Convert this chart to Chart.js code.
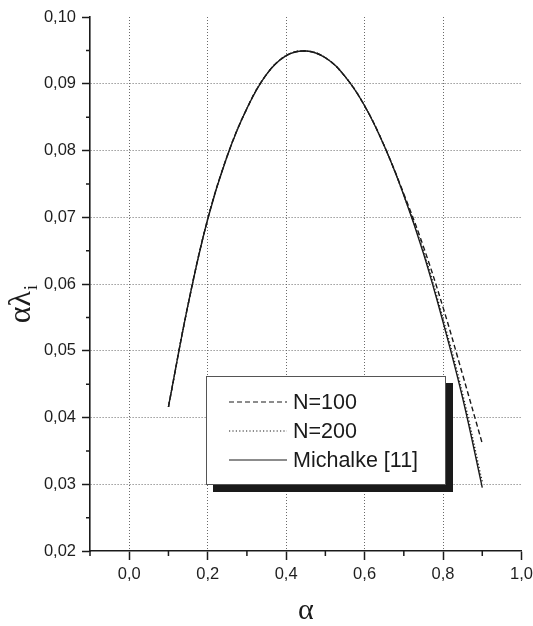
<!DOCTYPE html>
<html>
<head>
<meta charset="utf-8">
<script src="https://cdn.jsdelivr.net/npm/chart.js@4/dist/chart.umd.min.js"></script>
<style>
  html, body { margin: 0; padding: 0; background: #fff; }
  #wrap { width: 533px; height: 626px; }
</style>
</head>
<body>
<div id="wrap"><canvas id="myChart" width="533" height="626"></canvas></div>
<script>
const alpha = [0.10, 0.15, 0.20, 0.25, 0.30, 0.35, 0.40, 0.45, 0.50, 0.55, 0.60, 0.65, 0.70, 0.75, 0.80, 0.85, 0.90];
const n100 = [0.0416, 0.0569, 0.0697, 0.0792, 0.0863, 0.0914, 0.0942, 0.0949, 0.0939, 0.0911, 0.0867, 0.0807, 0.0735, 0.0656, 0.0565, 0.0464, 0.0361];
const n200 = [0.0416, 0.0569, 0.0697, 0.0792, 0.0863, 0.0914, 0.0942, 0.0949, 0.0939, 0.0911, 0.0867, 0.0807, 0.0733, 0.0649, 0.0548, 0.0435, 0.0303];
const michalke = [0.0416, 0.0569, 0.0697, 0.0792, 0.0863, 0.0914, 0.0942, 0.0949, 0.0939, 0.0911, 0.0867, 0.0807, 0.0733, 0.0646, 0.0543, 0.0429, 0.0295];

const seriesLabels = ['N=100', 'N=200', 'Michalke [11]'];

const xTicks = [0.0, 0.2, 0.4, 0.6, 0.8, 1.0];
const xTickLabels = ['0,0', '0,2', '0,4', '0,6', '0,8', '1,0'];
const xMinorTicks = [-0.1, 0.1, 0.3, 0.5, 0.7, 0.9];
const yTicks = [0.02, 0.03, 0.04, 0.05, 0.06, 0.07, 0.08, 0.09, 0.10];
const yTickLabels = ['0,02', '0,03', '0,04', '0,05', '0,06', '0,07', '0,08', '0,09', '0,10'];
const yMinorTicks = [0.025, 0.035, 0.045, 0.055, 0.065, 0.075, 0.085, 0.095];

const ink = '#1a1a1a';
const gridGray = '#6a6a6a';

function pts(ys) {
    return alpha.map((a, i) => ({ x: a, y: ys[i] }));
}

// minor tick marks (Chart.js only draws one tick length)
const minorTicks = {
    id: 'minorTicks',
    afterDraw(chart) {
        const ctx = chart.ctx;
        const x = chart.scales.x, y = chart.scales.y;
        ctx.save();
        ctx.strokeStyle = ink;
        ctx.lineWidth = 1.5;
        ctx.beginPath();
        xMinorTicks.forEach(v => {
            const px = x.getPixelForValue(v);
            ctx.moveTo(px, x.top);
            ctx.lineTo(px, x.top + 5);
        });
        yMinorTicks.forEach(v => {
            const py = y.getPixelForValue(v);
            ctx.moveTo(y.right, py);
            ctx.lineTo(y.right - 4, py);
        });
        ctx.stroke();
        ctx.restore();
    }
};

// y axis title: alpha lambda with subscript i
const yTitle = {
    id: 'yTitle',
    afterDraw(chart) {
        const ctx = chart.ctx;
        const y = chart.scales.y;
        const cy = (y.top + y.bottom) / 2 + 23;
        ctx.save();
        ctx.translate(30, cy);
        ctx.rotate(-Math.PI / 2);
        ctx.fillStyle = ink;
        ctx.textBaseline = 'alphabetic';
        ctx.font = '32px "Liberation Serif", serif';
        const w = ctx.measureText('αλ').width;
        ctx.textAlign = 'left';
        ctx.fillText('αλ', -w / 2, 0);
        ctx.font = '19px "Liberation Serif", serif';
        ctx.fillText('i', w / 2 + 0.5, 7);
        ctx.restore();
    }
};

// boxed legend with a drop shadow
const boxLegend = {
    id: 'boxLegend',
    afterDatasetsDraw(chart) {
        const ctx = chart.ctx;
        const left = 206, top = 376, w = 240, h = 109, off = 7;
        ctx.save();
        ctx.fillStyle = '#1a1a1a';
        ctx.fillRect(left + off, top + off, w, h);
        ctx.fillStyle = '#fff';
        ctx.fillRect(left, top, w, h);
        ctx.strokeStyle = '#555';
        ctx.lineWidth = 1;
        ctx.strokeRect(left + 0.5, top + 0.5, w - 1, h - 1);
        ctx.font = '21.5px "Liberation Sans", Arial, sans-serif';
        ctx.textBaseline = 'middle';
        ctx.fillStyle = ink;
        chart.data.datasets.forEach((ds, i) => {
            const ry = top + 26 + i * 29;
            ctx.save();
            ctx.strokeStyle = ds.borderColor;
            ctx.lineWidth = 1.2;
            ctx.setLineDash(ds.borderDash || []);
            ctx.beginPath();
            ctx.moveTo(229, ry);
            ctx.lineTo(287, ry);
            ctx.stroke();
            ctx.restore();
            ctx.fillText(ds.label, 293, ry + 1);
        });
        ctx.restore();
    }
};

function makeGraphic() {
    const canvasContext = document.getElementById('myChart').getContext('2d');
    const lineStyle = {
        borderColor: ink,
        borderWidth: 1.4,
        pointRadius: 0,
        fill: false,
        tension: 0.4
    };
    const data = {
        datasets: [
            Object.assign({ label: seriesLabels[0], data: pts(n100), borderDash: [5, 3] }, lineStyle),
            Object.assign({ label: seriesLabels[1], data: pts(n200), borderDash: [1.2, 2.2] }, lineStyle),
            Object.assign({ label: seriesLabels[2], data: pts(michalke) }, lineStyle)
        ]
    };
    const tickFont = { family: '"Liberation Sans", Arial, sans-serif', size: 16.5 };
    const config = {
        type: 'line',
        data: data,
        options: {
            responsive: false,
            animation: false,
            events: [],
            layout: { padding: { top: 17, right: 11.5, left: 0, bottom: 0 } },
            plugins: {
                legend: { display: false },
                tooltip: { enabled: false }
            },
            scales: {
                x: {
                    type: 'linear',
                    min: -0.1,
                    max: 1.0,
                    afterBuildTicks: (scale) => { scale.ticks = xTicks.map(v => ({ value: v })); },
                    afterFit: (scale) => {
                        scale.height = 75;
                        scale.paddingLeft = 0;
                        scale.paddingRight = 0;
                    },
                    ticks: {
                        color: '#1e1e1e',
                        font: tickFont,
                        padding: 5,
                        maxRotation: 0,
                        autoSkip: false,
                        callback: (v, i) => xTickLabels[i]
                    },
                    grid: {
                        color: (c) => (c.tick && c.tick.value > 0.9) ? 'rgba(0,0,0,0)' : gridGray,
                        lineWidth: 1,
                        tickColor: ink,
                        tickWidth: 1.5,
                        tickLength: 9
                    },
                    border: { color: ink, width: 1.6, dash: [1, 2] },
                    title: {
                        display: true,
                        text: 'α',
                        color: ink,
                        font: { family: '"Liberation Serif", serif', size: 30, lineHeight: 1 },
                        padding: { top: 0, bottom: 0 }
                    }
                },
                y: {
                    type: 'linear',
                    min: 0.02,
                    max: 0.10,
                    afterBuildTicks: (scale) => { scale.ticks = yTicks.map(v => ({ value: v })); },
                    afterFit: (scale) => {
                        scale.width = 90;
                        scale.paddingTop = 0;
                        scale.paddingBottom = 0;
                    },
                    ticks: {
                        color: '#1e1e1e',
                        font: tickFont,
                        padding: 6,
                        autoSkip: false,
                        callback: (v, i) => yTickLabels[i]
                    },
                    grid: {
                        color: (c) => (c.tick && (c.tick.value > 0.095 || c.tick.value < 0.025)) ? 'rgba(0,0,0,0)' : gridGray,
                        lineWidth: 1,
                        tickColor: ink,
                        tickWidth: 1.5,
                        tickLength: 8
                    },
                    border: { color: ink, width: 1.6, dash: [1, 2] }
                }
            }
        },
        plugins: [minorTicks, yTitle, boxLegend]
    };
    const myChart = new Chart(canvasContext, config);
}
makeGraphic();
</script>
</body>
</html>
